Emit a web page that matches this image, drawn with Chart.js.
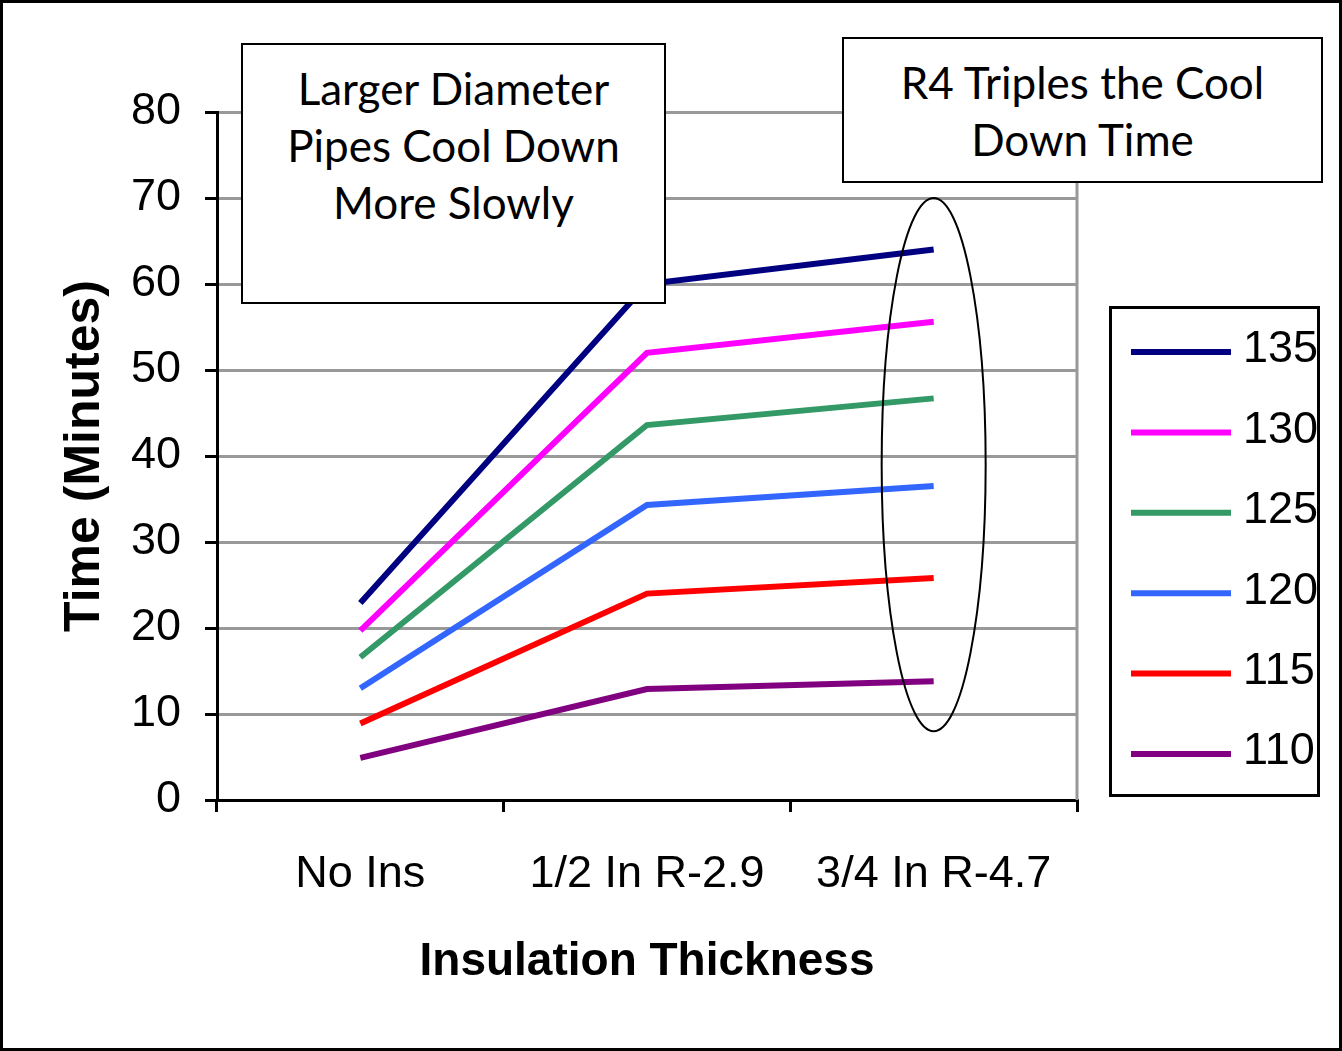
<!DOCTYPE html>
<html>
<head>
<meta charset="utf-8">
<script src="https://cdn.jsdelivr.net/npm/chart.js@4.4.1/dist/chart.umd.min.js"></script>
<style>
    body { margin: 0; background: #fff; }
    #frame {
        position: absolute; left: 0; top: 0;
        width: 1342px; height: 1051px;
        box-sizing: border-box; border: 3px solid #000;
        background: #fff;
    }
    #chart { position: absolute; left: 0; top: 0; }
    .note {
        position: absolute; box-sizing: border-box;
        border: 2px solid #000; background: #fff;
        font-family: Lato, "Open Sans", sans-serif; font-size: 44px;
        line-height: 57px; text-align: center; color: #000;
    }
</style>
</head>
<body>
<div id="frame">
    <canvas id="chart" width="1336" height="1045"></canvas>
    <div class="note" style="left:238px; top:40px; width:425px; height:261px; padding-top:15px;">Larger Diameter<br>Pipes Cool Down<br>More Slowly</div>
    <div class="note" style="left:839px; top:34px; width:481px; height:146px; padding-top:15px;">R4 Triples the Cool<br>Down Time</div>
</div>
<script>
// 카테고리 / 시리즈 값
const categories = ['No Ins', '1/2 In R-2.9', '3/4 In R-4.7'];
const seriesLabels = ['135', '130', '125', '120', '115', '110'];
const seriesColors = ['#000080', '#FF00FF', '#339966', '#3366FF', '#FF0000', '#800080'];
const v135 = [22.9, 60.0, 64.0];
const v130 = [19.7, 52.0, 55.6];
const v125 = [16.6, 43.6, 46.7];
const v120 = [13.0, 34.3, 36.5];
const v115 = [8.9, 24.0, 25.8];
const v110 = [4.9, 12.9, 13.8];
const seriesValues = [v135, v130, v125, v120, v115, v110];
const yTicks = [0, 10, 20, 30, 40, 50, 60, 70, 80];
// 타원 강조 범위 (3/4 In 지점)
const ringCategory = 2;
const ringRange = [8, 70];

const datasets = seriesLabels.map((lab, i) => ({
    label: lab,
    data: seriesValues[i],
    borderColor: seriesColors[i],
    backgroundColor: seriesColors[i],
    borderWidth: 6,
    pointRadius: 0,
    tension: 0,
    borderCapStyle: 'butt'
}));

// 오른쪽 회색 테두리 + 타원 + 범례
const extras = {
    id: 'extras',
    beforeDatasetsDraw(chart) {
        const { ctx, chartArea: a } = chart;
        ctx.save();
        ctx.strokeStyle = '#999';
        ctx.lineWidth = 3;
        ctx.beginPath();
        ctx.moveTo(a.right, a.top - 1.5);
        ctx.lineTo(a.right, a.bottom);
        ctx.stroke();
        ctx.restore();
    },
    afterDatasetsDraw(chart) {
        const { ctx } = chart;
        const xs = chart.scales.x, ys = chart.scales.y;
        const cx = xs.getPixelForValue(ringCategory);
        const yTop = ys.getPixelForValue(ringRange[1]);
        const yBot = ys.getPixelForValue(ringRange[0]);
        ctx.save();
        ctx.strokeStyle = '#000';
        ctx.lineWidth = 2;
        ctx.beginPath();
        ctx.ellipse(cx, (yTop + yBot) / 2, 52, (yBot - yTop) / 2, 0, 0, Math.PI * 2);
        ctx.stroke();

        // 범례
        const lx = 1106, ly = 303, lw = 211, lh = 491;
        ctx.lineWidth = 3;
        ctx.strokeRect(lx + 1.5, ly + 1.5, lw - 3, lh - 3);
        ctx.font = '45px "Liberation Sans", Arial, sans-serif';
        ctx.textBaseline = 'middle';
        ctx.fillStyle = '#000';
        seriesLabels.forEach((lab, i) => {
            const y = ly + 46 + i * 80.4;
            ctx.strokeStyle = seriesColors[i];
            ctx.lineWidth = 6;
            ctx.beginPath();
            ctx.moveTo(lx + 22, y);
            ctx.lineTo(lx + 122, y);
            ctx.stroke();
            ctx.fillText(lab, lx + 134, y - 2);
        });
        ctx.restore();
    }
};

new Chart(document.getElementById('chart'), {
    type: 'line',
    data: { labels: categories, datasets },
    options: {
        responsive: false,
        animation: false,
        layout: { padding: { left: 0, top: 109, right: 262, bottom: 0 } },
        plugins: { legend: { display: false }, tooltip: { enabled: false } },
        scales: {
            x: {
                offset: true,
                afterFit: s => { s.height = 248; },
                grid: { offset: true, drawOnChartArea: false, drawTicks: true, tickLength: 12, color: '#000', lineWidth: 3 },
                border: { color: '#000', width: 3 },
                ticks: { color: '#000', padding: 36, font: { family: '"Liberation Sans", Arial, sans-serif', size: 45 } },
                title: {
                    display: true, text: 'Insulation Thickness', color: '#000',
                    font: { family: '"Liberation Sans", Arial, sans-serif', size: 46, weight: 'bold' },
                    padding: { top: 0, bottom: 58 }
                }
            },
            y: {
                min: 0, max: 80,
                afterFit: s => { s.width = 214; },
                afterBuildTicks: s => { s.ticks = yTicks.map(v => ({ value: v })); },
                grid: { color: '#999', lineWidth: 3, tickColor: '#000', tickLength: 12, drawTicks: true },
                border: { color: '#000', width: 3 },
                ticks: { color: '#000', padding: 24, font: { family: '"Liberation Sans", Arial, sans-serif', size: 45 } },
                title: {
                    display: true, text: 'Time (Minutes)', color: '#000',
                    font: { family: '"Liberation Sans", Arial, sans-serif', size: 50, weight: 'bold' },
                    padding: { top: 52, bottom: 0 }
                }
            }
        }
    },
    plugins: [extras]
});
</script>
</body>
</html>
